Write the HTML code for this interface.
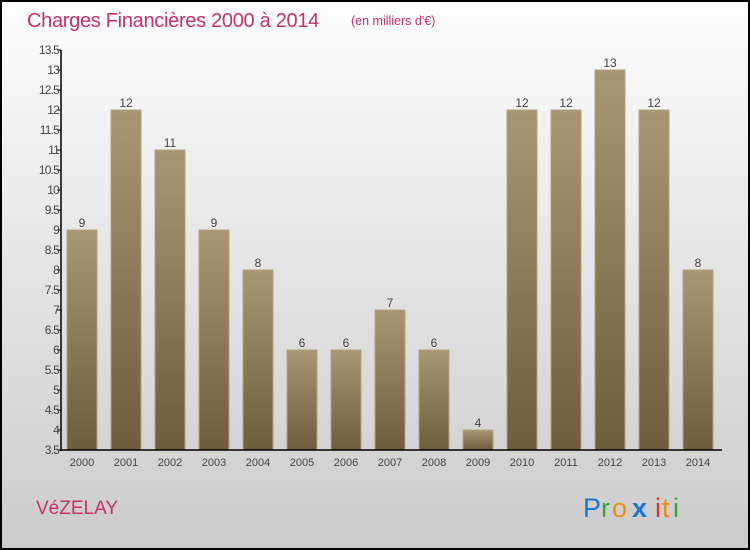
<!DOCTYPE html>
<html><head><meta charset="utf-8"><style>
body{margin:0;width:750px;height:550px;overflow:hidden}
svg{display:block;font-family:"Liberation Sans",sans-serif}
</style></head><body>
<svg id="c" width="750" height="550">
<defs>
<linearGradient id="bg" x1="0" y1="0" x2="0" y2="1"><stop offset="0" stop-color="#fdfdfd"/><stop offset="1" stop-color="#cbcbcb"/></linearGradient>
<linearGradient id="bar" x1="0" y1="0" x2="0" y2="1"><stop offset="0" stop-color="#a89674"/><stop offset="1" stop-color="#6e5d3d"/></linearGradient>
</defs>
<rect x="1" y="1" width="748" height="548" fill="url(#bg)" stroke="#000" stroke-width="2"/>
<text x="27" y="27" font-size="20" fill="#c8306a" letter-spacing="-0.3">Charges Financières 2000 à 2014</text>
<text x="351" y="25" font-size="12.5" fill="#c8306a">(en milliers d'€)</text>
<text x="36" y="514" font-size="19" fill="#c8306a">VéZELAY</text>
<g font-size="27">
<text x="583" y="517" fill="#1a78d0">P</text><text x="601" y="517" fill="#3aa33a">r</text><text x="612" y="517" fill="#f08a10">o</text><text x="632" y="517" fill="#1a78d0" font-weight="bold">x</text><text x="655" y="517" fill="#e03020">i</text><text x="662" y="517" fill="#f08a10">t</text><text x="673" y="517" fill="#3aa33a">i</text>
</g>
<g id="plot"></g>
</svg>
<script>
const years=["2000","2001","2002","2003","2004","2005","2006","2007","2008","2009","2010","2011","2012","2013","2014"];
const values=[9,12,11,9,8,6,6,7,6,4,12,12,13,12,8];
const yTicks=[3.5,4,4.5,5,5.5,6,6.5,7,7.5,8,8.5,9,9.5,10,10.5,11,11.5,12,12.5,13,13.5];
const NS="http://www.w3.org/2000/svg";
const g=document.getElementById('plot');
const y=v=>450-(v-3.5)*40;
const x=i=>82+i*44;
function mk(t,a,txt){const e=document.createElementNS(NS,t);for(const k in a)e.setAttribute(k,a[k]);if(txt!==undefined)e.textContent=txt;g.appendChild(e);return e;}
values.forEach((v,i)=>{
 const r=mk('rect',{x:x(i)-15,y:y(v),width:30,height:450-y(v),fill:'url(#bar)',stroke:'#b3a383','stroke-width':1});
 
 
 const t=mk('text',{x:x(i),y:y(v)-3,'text-anchor':'middle','font-size':12,fill:'#444'},String(v));
 
 
 const l=mk('text',{x:x(i),y:466,'text-anchor':'middle','font-size':11,fill:'#444'},years[i]);
 
 
});
yTicks.forEach(v=>{
 const tk=mk('line',{x1:57,x2:61,y1:y(v),y2:y(v),stroke:'#000'});
 
 
 const t=mk('text',{x:59,y:y(v)+4,'text-anchor':'end','font-size':12,fill:'#444','letter-spacing':'-0.8'},String(v));
 
 
});
const ya=mk('line',{x1:61,x2:61,y1:50,y2:451,stroke:'#000','stroke-width':1.5});


const xa=mk('line',{x1:60,x2:722,y1:450,y2:450,stroke:'#000','stroke-width':1.5});


</script>
</body></html>
